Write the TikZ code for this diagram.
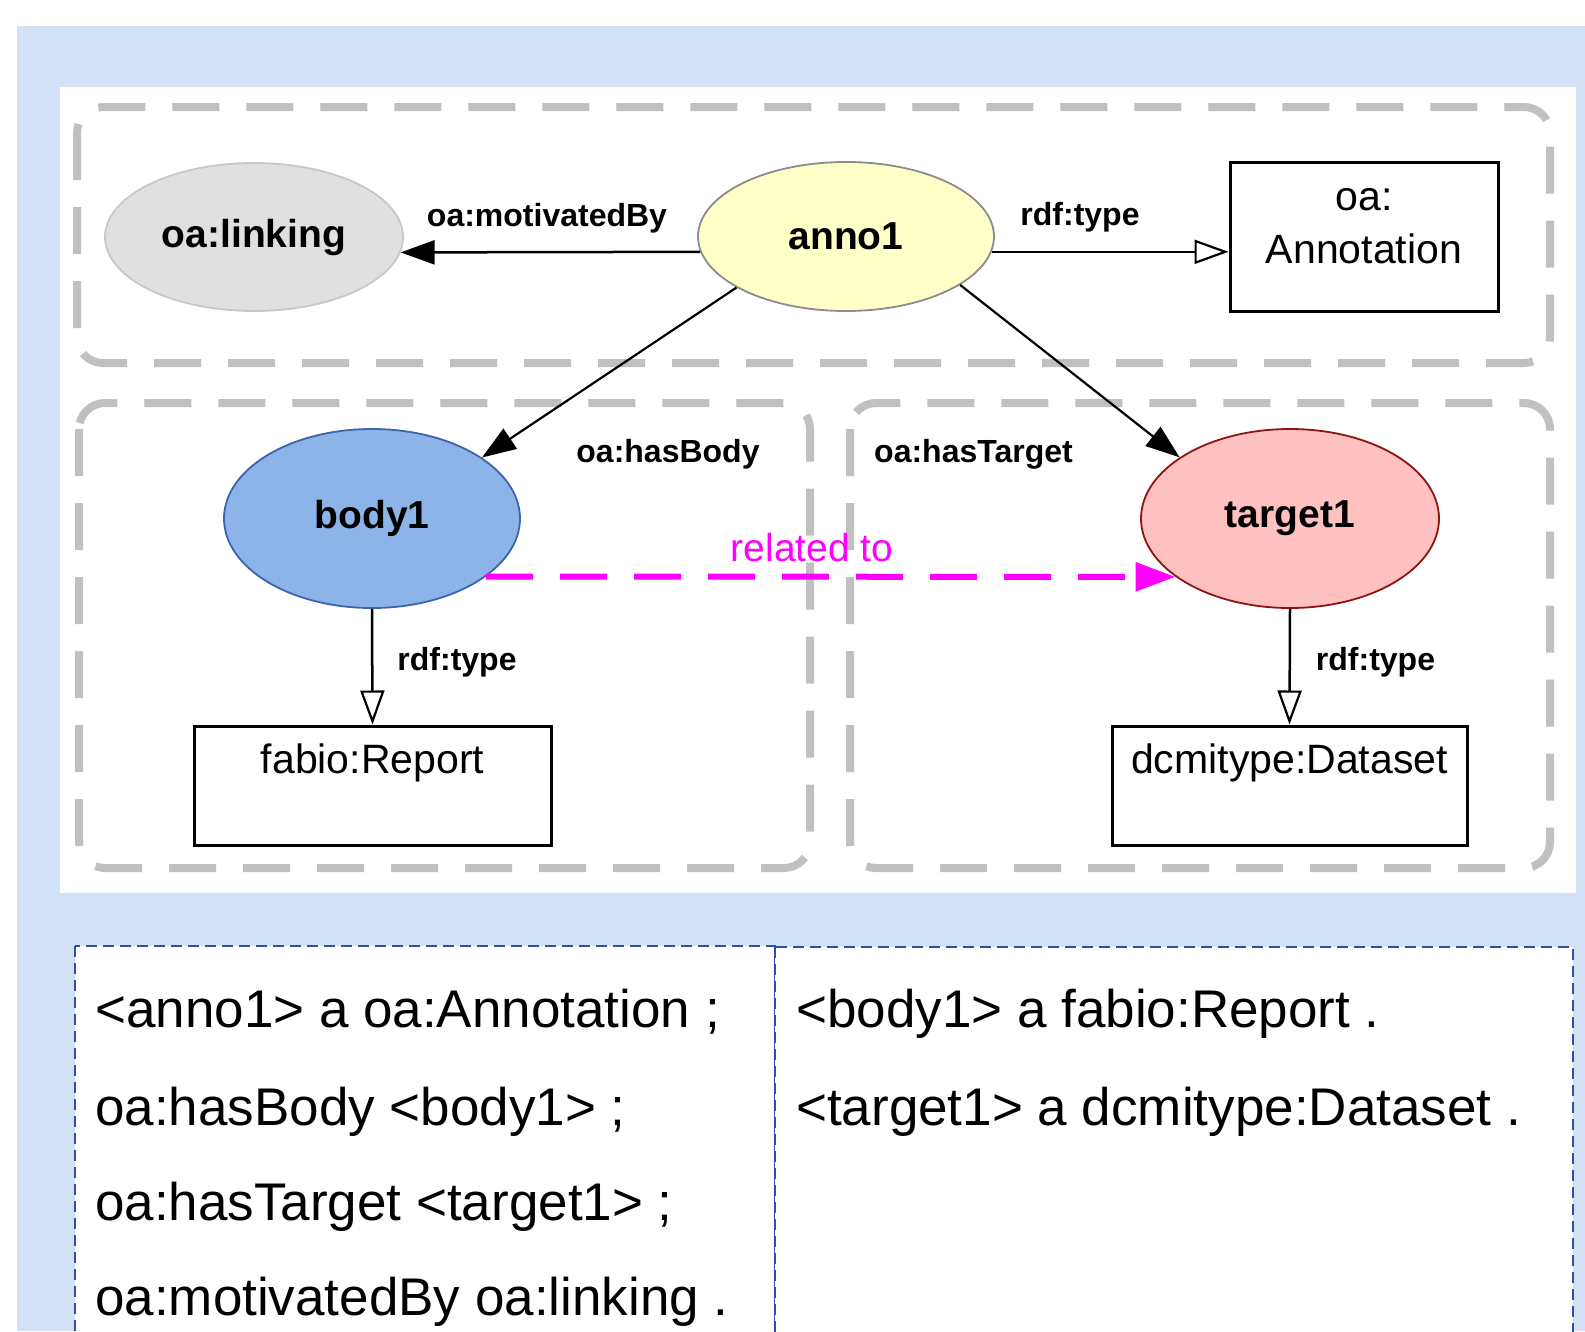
\documentclass[tikz,border=0pt]{standalone}
\usepackage{fontspec}
\setmainfont{Liberation Sans}
\usetikzlibrary{arrows.meta,calc,shapes.geometric}
\definecolor{bgblue}{RGB}{210,225,245}
\definecolor{grpgray}{RGB}{192,192,192}
\definecolor{linkfill}{RGB}{224,224,224}
\definecolor{linkdraw}{RGB}{200,200,200}
\definecolor{annofill}{RGB}{255,255,200}
\definecolor{annodraw}{RGB}{140,140,140}
\definecolor{bodyfill}{RGB}{141,180,232}
\definecolor{bodydraw}{RGB}{60,100,170}
\definecolor{targfill}{RGB}{255,192,192}
\definecolor{targdraw}{RGB}{140,20,20}
\definecolor{ttlblue}{RGB}{50,80,160}
\definecolor{relmag}{RGB}{255,0,255}
\tikzset{
  groupbox/.style={draw=grpgray, line width=8pt, rounded corners=26pt, dash pattern=on 47pt off 27pt},
  ellnode/.style={ellipse, inner sep=0pt, line width=1.8pt, font=\fontsize{39}{47}\selectfont\bfseries},
  typebox/.style={draw=black, line width=3pt, fill=white, inner sep=0pt},
  boxtext/.style={inner sep=0pt, anchor=base, font=\fontsize{41}{50}\selectfont},
  edgelab/.style={inner sep=0pt, anchor=base, font=\fontsize{32}{38}\selectfont\bfseries},
  edgeline/.style={draw=black, line width=2.5pt},
  filledtip/.style={-{Triangle[length=34pt,width=24pt]}},
  opentip/.style={-{Triangle[open,length=34pt,width=24pt,line width=2.2pt]}},
  ttlbox/.style={draw=ttlblue, fill=white, line width=1.8pt, dash pattern=on 11pt off 6pt},
  ttltext/.style={inner sep=0pt, anchor=base west, font=\fontsize{53}{62}\selectfont},
}
\begin{document}
\begin{tikzpicture}[x=1pt,y=-1pt]
\useasboundingbox (0,0) rectangle (1585,1331);
\clip (0,0) rectangle (1585,1331);
\fill[white] (0,0) rectangle (1585,1331);
\fill[bgblue] (17,26) rectangle (1585,1331);
\fill[white] (60,87) rectangle (1576,893);

% groups
\draw[groupbox] (77,107) rectangle (1550,363);
\draw[groupbox] (79,403) rectangle (810,868);
\draw[groupbox] (850,403) rectangle (1550,868);

% nodes
\node[ellnode, fill=linkfill, draw=linkdraw, minimum width=298pt, minimum height=148pt] (linking) at (254,237) {oa:linking};
\node[ellnode, fill=annofill, draw=annodraw, minimum width=296pt, minimum height=149pt] (anno1) at (846,236.5) {anno1};
\node[ellnode, fill=bodyfill, draw=bodydraw, minimum width=296pt, minimum height=179pt] (body1) at (372,518.5) {body1};
\node[ellnode, fill=targfill, draw=targdraw, minimum width=298pt, minimum height=179pt] (target1) at (1290,518.5) {target1};

\node[typebox, minimum width=268pt, minimum height=149pt] (ann) at (1364,236.5) {};
\node[boxtext] (anntxt1) at ($(ann.north)+(0,50)$) {oa:};
\node[boxtext] (anntxt2) at ($(ann.north)+(0,103)$) {Annotation};

\node[typebox, minimum width=357pt, minimum height=119pt] (fabio) at (372.5,785.5) {};
\node[boxtext] (fabiotxt) at ($(fabio.north)+(0,49)$) {fabio:Report};

\node[typebox, minimum width=355pt, minimum height=119pt] (dataset) at (1289.5,785.5) {};
\node[boxtext] (datatxt) at ($(dataset.north)+(0,49)$) {dcmitype:Dataset};

% edges
\draw[edgeline, filledtip] (anno1.186) -- (linking.-6);
\draw[edgeline, opentip] (anno1.-6) -- (anno1.-6 -| ann.west);
\draw[edgeline, line width=2.2pt, filledtip] (anno1.205) -- (body1.29);
\draw[edgeline, line width=2.2pt, filledtip] (anno1.-23) -- (target1.151);
\draw[edgeline, opentip] (body1.south) -- (fabio.north);
\draw[edgeline, opentip] (target1.south) -- (dataset.north);
\draw[draw=relmag, line width=6pt, dash pattern=on 47pt off 27pt, -{Triangle[length=40pt,width=28pt]}] (body1.-27) -- (target1.207);

% edge labels
\node[edgelab] (lmot) at (547,226) {oa:motivatedBy};
\node[edgelab] (ltype1) at (1080,225) {rdf:type};
\node[edgelab] (lbody) at (668,462) {oa:hasBody};
\node[edgelab] (ltarget) at (973.5,462) {oa:hasTarget};
\node[edgelab] (ltype2) at (457,670) {rdf:type};
\node[edgelab] (ltype3) at (1375.5,670) {rdf:type};
\node[inner sep=0pt, anchor=base, font=\fontsize{39}{47}\selectfont, text=relmag] (lrel) at (812,561) {related to};

% Turtle boxes
\draw[ttlbox] (75,946) rectangle (775,1345);
\draw[ttlbox] (775,947) rectangle (1573,1345);
\node[ttltext] (t1) at (95,1027) {<anno1> a oa:Annotation ;};
\node[ttltext] (t2) at (95,1125) {oa:hasBody <body1> ;};
\node[ttltext] (t3) at (95,1220) {oa:hasTarget <target1> ;};
\node[ttltext] (t4) at (95,1315) {oa:motivatedBy oa:linking .};
\node[ttltext] (t5) at (796,1027) {<body1> a fabio:Report .};
\node[ttltext] (t6) at (796,1125) {<target1> a dcmitype:Dataset .};
\end{tikzpicture}
\end{document}
